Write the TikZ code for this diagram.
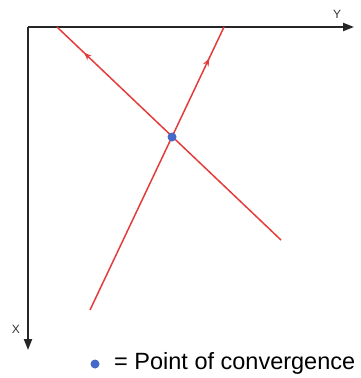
\documentclass[tikz,border=0pt]{standalone}
\usepackage{fontspec}
\setmainfont{Liberation Sans}
\usetikzlibrary{arrows.meta, decorations.markings}
\definecolor{rayred}{RGB}{228,60,60}
\definecolor{dotblue}{RGB}{70,105,200}

\begin{document}
\begin{tikzpicture}[
    x=1pt, y=-1pt,
    axis/.style={-{Triangle[length=11pt, width=8pt]}, line width=2pt, black!85},
    ray/.style={line width=1.5pt, rayred, postaction={decorate},
        decoration={markings, mark=at position #1 with {\arrow{Stealth[length=8pt, width=6pt]}}}},
    dot/.style={circle, fill=dotblue, inner sep=0pt, minimum size=9pt},
    axlabel/.style={font=\fontsize{12}{14}\selectfont, text=black!80}
]
    \useasboundingbox (0,0) rectangle (360,378);

    % Axes
    \coordinate (origin) at (28,27);
    \coordinate (yend) at (354,27);
    \coordinate (xend) at (28,350);
    \draw[axis] (origin) -- (yend);
    \draw[axis] (origin) -- (xend);
    \node[axlabel] (ylabel) at (337,14) {Y};
    \node[axlabel] (xlabel) at (16,329) {X};

    % Rays
    \coordinate (rayAlow) at (281,240);
    \coordinate (rayAtop) at (57,27);
    \coordinate (rayBlow) at (90,310);
    \coordinate (rayBtop) at (224,27);
    \draw[ray=0.88] (rayAlow) -- (rayAtop);
    \draw[ray=0.89] (rayBlow) -- (rayBtop);

    % Convergence point
    \node[dot] (conv) at (172,137) {};

    % Legend
    \node[dot] (keydot) at (95,364) {};
    \node[anchor=west, inner sep=0pt, font=\fontsize{23.5}{27}\selectfont] (keytext) at (114,363) {= Point of convergence};
\end{tikzpicture}
\end{document}
